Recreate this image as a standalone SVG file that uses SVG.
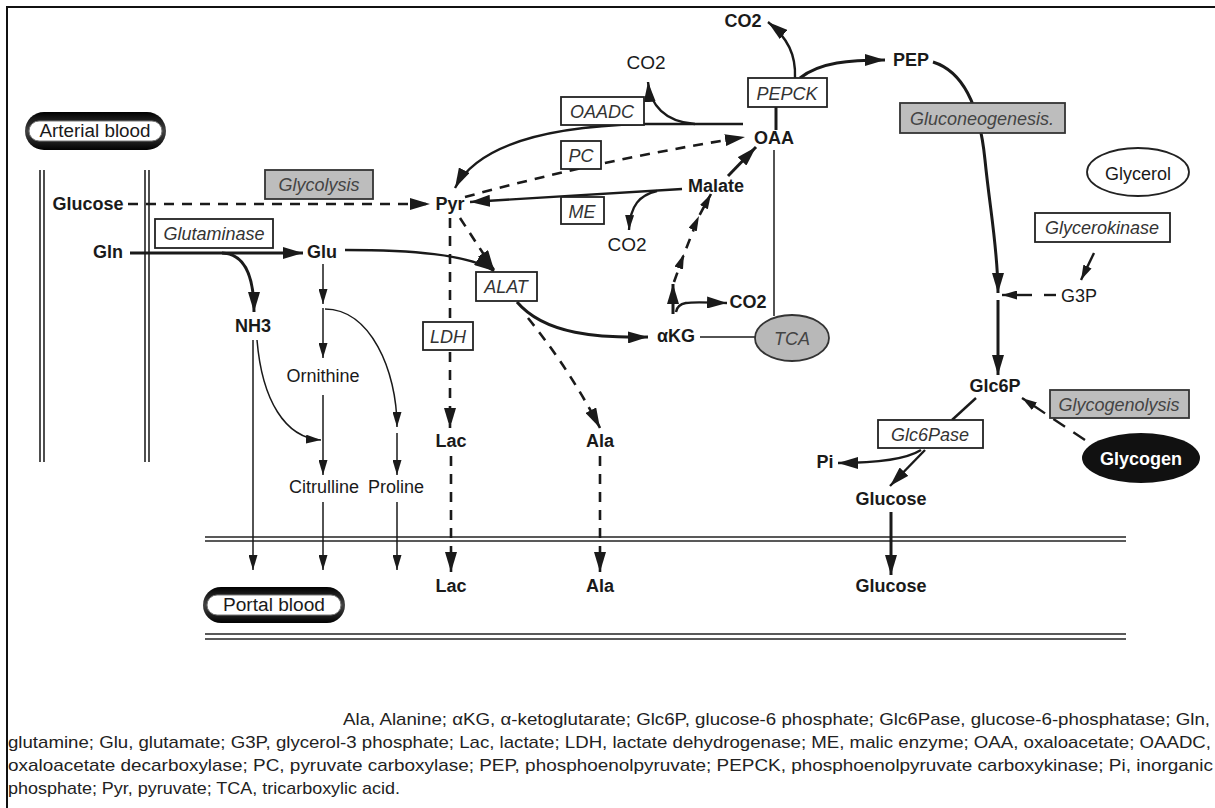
<svg xmlns="http://www.w3.org/2000/svg" width="1215" height="808" viewBox="0 0 1215 808">
<style>
text{font-family:"Liberation Sans",Arial,sans-serif;font-size:18px;fill:#1a1a1a}
.b{font-weight:bold}
.c{text-anchor:middle}
.i{font-style:italic;fill:#333}
.ig{font-style:italic;fill:#444}
.box{fill:#fff;stroke:#222;stroke-width:1.8}
.gbox{fill:#bdbdbd;stroke:#333;stroke-width:1.8}
.ln{fill:none;stroke:#1a1a1a;stroke-width:2.4}
.th{fill:none;stroke:#1a1a1a;stroke-width:1.5}
.bd{fill:none;stroke:#1a1a1a;stroke-width:3}
.ds{fill:none;stroke:#1a1a1a;stroke-width:2.6;stroke-dasharray:10 8}
.mem{stroke:#222;stroke-width:1.6}
.leg{font-size:17px;fill:#222}
</style>
<defs>
<marker id="a" markerUnits="userSpaceOnUse" markerWidth="20" markerHeight="12" refX="20" refY="6" orient="auto"><path d="M0,0 L20,6 L0,12 z" fill="#1a1a1a"/></marker>
<marker id="s" markerUnits="userSpaceOnUse" markerWidth="15" markerHeight="9" refX="15" refY="4.5" orient="auto"><path d="M0,0 L15,4.5 L0,9 z" fill="#1a1a1a"/></marker>
<linearGradient id="pill" x1="0" y1="0" x2="0" y2="1"><stop offset="0" stop-color="#000"/><stop offset="0.5" stop-color="#444"/><stop offset="1" stop-color="#000"/></linearGradient>
</defs>
<rect x="0" y="0" width="1215" height="808" fill="#fff"/>
<rect x="7" y="7" width="1230" height="830" fill="none" stroke="#111" stroke-width="2"/>

<g id="membranes">
<line class="mem" x1="40" y1="170" x2="40" y2="462"/>
<line class="mem" x1="44" y1="170" x2="44" y2="462"/>
<line class="mem" x1="145" y1="170" x2="145" y2="462"/>
<line class="mem" x1="149" y1="170" x2="149" y2="462"/>
<line class="mem" x1="205" y1="537" x2="1126" y2="537"/>
<line class="mem" x1="205" y1="541" x2="1126" y2="541"/>
<line class="mem" x1="205" y1="634" x2="1126" y2="634"/>
<line class="mem" x1="205" y1="639" x2="1126" y2="639"/>
</g>

<g id="connectors">
<path class="ds" d="M128,204 H430" marker-end="url(#a)"/>
<path class="bd" d="M130,253 H303" marker-end="url(#a)"/>
<path class="bd" d="M222,253 Q254,254 254,312" marker-end="url(#a)"/>
<path class="th" d="M323,264 V304" marker-end="url(#s)"/>
<path class="th" d="M323,308 V358" marker-end="url(#s)"/>
<path class="th" d="M325,309 C370,309 397,370 397,427" marker-end="url(#s)"/>
<path class="th" d="M397,433 V475" marker-end="url(#s)"/>
<path class="th" d="M323,395 V475" marker-end="url(#s)"/>
<path class="th" d="M257,340 C262,400 285,438 321,440" marker-end="url(#s)"/>
<path class="th" d="M253,340 V570" marker-end="url(#s)"/>
<path class="th" d="M323,502 V570" marker-end="url(#s)"/>
<path class="th" d="M397,502 V570" marker-end="url(#s)"/>
<path class="ln" d="M345,250 C410,250 468,254 494,271" marker-end="url(#a)"/>
<path class="ds" d="M460,218 L494,270" marker-end="url(#a)"/>
<path class="ds" d="M450,218 V322"/>
<path class="ds" d="M450,352 V428" marker-end="url(#a)"/>
<path class="ds" d="M451,456 V572" marker-end="url(#a)"/>
<path class="bd" d="M517,302 C545,335 600,338 648,337" marker-end="url(#a)"/>
<path class="ds" d="M528,318 Q570,370 600,428" marker-end="url(#a)"/>
<path class="ds" d="M600,456 V572" marker-end="url(#a)"/>
<path class="th" d="M700,337 H756"/>
<path class="th" d="M774,316 V150"/>
<path class="bd" d="M673,314 V284" marker-end="url(#a)"/>
<path class="ln" d="M676,312 C678,300 690,302 727,303" marker-end="url(#a)"/>
<path class="ds" d="M674,282 L684,254 L699,216 L711,194" marker-mid="url(#s)" marker-end="url(#s)"/>
<path class="bd" d="M728,176 L756,147" marker-end="url(#a)"/>
<path class="ln" d="M682,189 L470,202" marker-end="url(#a)"/>
<path class="ln" d="M657,191 C640,195 630,205 629,230" marker-end="url(#s)"/>
<path class="ds" d="M465,197 Q600,160 745,137" marker-end="url(#a)"/>
<path class="ln" d="M743,124 L643,124 C560,126 480,140 455,188" marker-end="url(#a)"/>
<path class="ln" d="M695,124 C665,122 650,105 648,82" marker-end="url(#a)"/>
<path class="bd" d="M776,130 V107"/>
<path class="ln" d="M795,78 C796,55 788,38 768,22" marker-end="url(#a)"/>
<path class="bd" d="M800,78 C820,62 850,60 885,60" marker-end="url(#a)"/>
<path class="bd" d="M933,62 C965,72 980,110 985,160 S998,250 998,293" marker-end="url(#a)"/>
<path class="ln" d="M1044,295 H1056"/>
<path class="ln" d="M1032,295 H1002" marker-end="url(#s)"/>
<path class="ln" d="M1094,253 L1081,280" marker-end="url(#s)"/>
<path class="bd" d="M998,300 V375" marker-end="url(#a)"/>
<path class="ln" d="M976,398 L952,420"/>
<path class="ln" d="M921,450 C905,460 870,463 838,463" marker-end="url(#a)"/>
<path class="ln" d="M925,450 L890,486" marker-end="url(#a)"/>
<path class="bd" d="M891,512 V575" marker-end="url(#a)"/>
<path class="ln" d="M1085,440 L1022,398" stroke-dasharray="14 10" marker-end="url(#s)"/>
</g>

<g id="arterial-blood">
<rect x="25" y="112" width="141" height="38" rx="19" fill="url(#pill)"/>
<rect x="29" y="121" width="133" height="20" rx="10" fill="#fff" stroke="#777" stroke-width="1"/>
<text x="95" y="137" class="c" textLength="111" lengthAdjust="spacingAndGlyphs">Arterial blood</text>
</g>
<g id="portal-blood">
<rect x="203" y="587" width="142" height="36" rx="18" fill="url(#pill)"/>
<rect x="207" y="595" width="134" height="20" rx="10" fill="#fff" stroke="#777" stroke-width="1"/>
<text x="274" y="611" class="c" textLength="102" lengthAdjust="spacingAndGlyphs">Portal blood</text>
</g>

<g id="glutaminase"><rect class="box" x="155" y="219" width="118" height="29"/><text x="214" y="240" class="c i">Glutaminase</text></g>
<g id="glycolysis"><rect class="gbox" x="265" y="170" width="108" height="29"/><text x="319" y="191" class="c ig">Glycolysis</text></g>
<g id="oaadc"><rect class="box" x="561" y="97" width="83" height="28"/><text x="602" y="118" class="c i">OAADC</text></g>
<g id="pc"><rect class="box" x="561" y="141" width="40" height="28"/><text x="581" y="162" class="c i">PC</text></g>
<g id="me"><rect class="box" x="561" y="197" width="43" height="27"/><text x="582" y="218" class="c i">ME</text></g>
<g id="pepck"><rect class="box" x="748" y="78" width="79" height="29"/><text x="787" y="100" class="c i">PEPCK</text></g>
<g id="alat"><rect class="box" x="476" y="272" width="61" height="29"/><text x="506" y="293" class="c i">ALAT</text></g>
<g id="ldh"><rect class="box" x="423" y="322" width="50" height="28"/><text x="448" y="343" class="c i">LDH</text></g>
<g id="gluconeogenesis"><rect class="gbox" x="900" y="103" width="165" height="30"/><text x="982" y="125" class="c ig">Gluconeogenesis.</text></g>
<g id="glycerokinase"><rect class="box" x="1035" y="213" width="135" height="29"/><text x="1102" y="234" class="c i">Glycerokinase</text></g>
<g id="glc6pase"><rect class="box" x="878" y="420" width="105" height="28"/><text x="930" y="441" class="c i">Glc6Pase</text></g>
<g id="glycogenolysis"><rect class="gbox" x="1050" y="390" width="139" height="28"/><text x="1119" y="411" class="c ig">Glycogenolysis</text></g>
<g id="tca"><ellipse cx="792" cy="338" rx="37" ry="23" fill="#b8b8b8" stroke="#333" stroke-width="1.8"/><text x="792" y="345" class="c ig">TCA</text></g>
<g id="glycerol"><ellipse cx="1138" cy="172" rx="51" ry="24" fill="#fff" stroke="#222" stroke-width="1.8"/><text x="1138" y="180" class="c">Glycerol</text></g>
<g id="glycogen"><ellipse cx="1141" cy="458" rx="59" ry="25" fill="#111"/><text x="1141" y="465" class="c b" style="fill:#fff">Glycogen</text></g>

<g id="glucose-art"><text x="88" y="210" class="c b">Glucose</text></g>
<g id="gln"><text x="108" y="258" class="c b">Gln</text></g>
<g id="glu"><text x="322" y="258" class="c b">Glu</text></g>
<g id="nh3"><text x="253" y="332" class="c b">NH3</text></g>
<g id="pyr"><text x="450" y="210" class="c b">Pyr</text></g>
<g id="oaa"><text x="774" y="144" class="c b">OAA</text></g>
<g id="malate"><text x="716" y="192" class="c b">Malate</text></g>
<g id="akg"><text x="676" y="342" class="c b">αKG</text></g>
<g id="co2-pepck"><text x="743" y="27" class="c b">CO2</text></g>
<g id="pep"><text x="911" y="66" class="c b">PEP</text></g>
<g id="co2-oaadc"><text x="646" y="69" class="c" style="font-size:19px">CO2</text></g>
<g id="co2-me"><text x="627" y="251" class="c" style="font-size:19px">CO2</text></g>
<g id="co2-akg"><text x="748" y="308" class="c b">CO2</text></g>
<g id="ornithine"><text x="323" y="382" class="c">Ornithine</text></g>
<g id="citrulline"><text x="324" y="493" class="c">Citrulline</text></g>
<g id="proline"><text x="396" y="493" class="c">Proline</text></g>
<g id="lac-liver"><text x="451" y="447" class="c b">Lac</text></g>
<g id="ala-liver"><text x="600" y="447" class="c b">Ala</text></g>
<g id="lac-portal"><text x="451" y="592" class="c b">Lac</text></g>
<g id="ala-portal"><text x="600" y="592" class="c b">Ala</text></g>
<g id="glucose-portal"><text x="891" y="592" class="c b">Glucose</text></g>
<g id="glucose-liver"><text x="891" y="505" class="c b">Glucose</text></g>
<g id="glc6p"><text x="995" y="392" class="c b">Glc6P</text></g>
<g id="g3p"><text x="1079" y="302" class="c">G3P</text></g>
<g id="pi"><text x="825" y="468" class="c b">Pi</text></g>

<g id="legend">
<text class="leg" x="343" y="725" textLength="867" lengthAdjust="spacingAndGlyphs">Ala, Alanine; αKG, α-ketoglutarate; Glc6P, glucose-6 phosphate; Glc6Pase, glucose-6-phosphatase; Gln,</text>
<text class="leg" x="8" y="748" textLength="1203" lengthAdjust="spacingAndGlyphs">glutamine; Glu, glutamate; G3P, glycerol-3 phosphate; Lac, lactate; LDH, lactate dehydrogenase; ME, malic enzyme; OAA, oxaloacetate; OAADC,</text>
<text class="leg" x="8" y="771" textLength="1205" lengthAdjust="spacingAndGlyphs">oxaloacetate decarboxylase; PC, pyruvate carboxylase; PEP, phosphoenolpyruvate; PEPCK, phosphoenolpyruvate carboxykinase; Pi, inorganic</text>
<text class="leg" x="8" y="794" textLength="392" lengthAdjust="spacingAndGlyphs">phosphate; Pyr, pyruvate; TCA, tricarboxylic acid.</text>
</g>
</svg>
